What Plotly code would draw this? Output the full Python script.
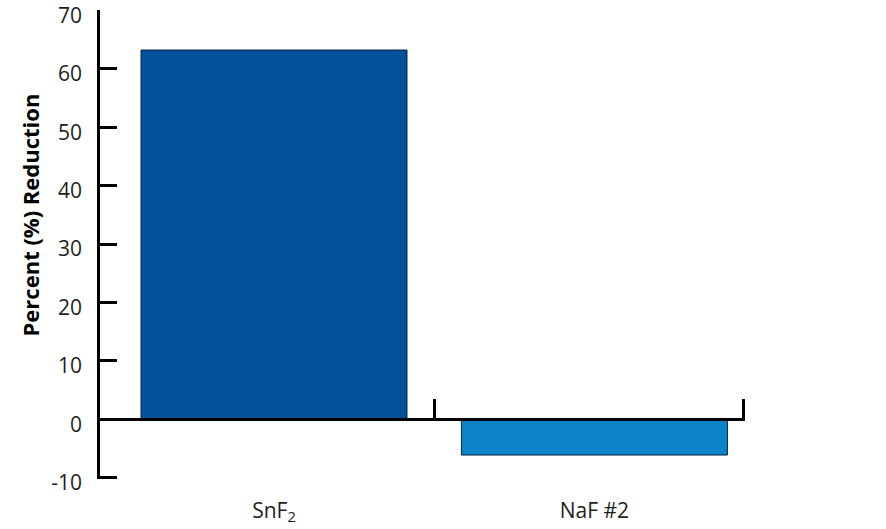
import plotly.graph_objects as go

# Data
categories = ["SnF<sub>2</sub>", "NaF #2"]
reduction = [63.2, -6.1]
bar_colors = ["#02519b", "#0b84c8"]

y_ticks = list(range(-10, 80, 10))
y_tick_text = [str(v) for v in y_ticks]  # plain hyphen, as in the reference
FONT = "'Open Sans', sans-serif"
INK = "#231f20"

x_pos = list(range(len(categories)))

fig = go.Figure()
fig.add_trace(go.Bar(
    x=x_pos,
    y=reduction,
    width=0.83,
    marker=dict(color=bar_colors, line=dict(color="#0a1f3a", width=1)),
    showlegend=False,
))

# invisible trace so the label axis (x2) is drawn
fig.add_trace(go.Scatter(x=x_pos, y=[None, None], xaxis="x2", yaxis="y",
                         showlegend=False, hoverinfo="skip"))

fig.update_layout(
    width=886,
    height=529,
    margin=dict(l=100, r=141, t=10, b=50),
    plot_bgcolor="white",
    paper_bgcolor="white",
    font=dict(family=FONT, size=21, color=INK),
    xaxis=dict(
        type="linear",
        range=[-0.543, 1.47],
        anchor="free",
        position=10.2 / 80.25,
        showline=True, linecolor="black", linewidth=2.5,
        ticks="inside", ticklen=20, tickwidth=2.5, tickcolor="black",
        tickvals=[0.5, 1.466],
        showticklabels=False,
        showgrid=False, zeroline=False,
        automargin=False,
    ),
    xaxis2=dict(
        overlaying="x",
        anchor="y",
        side="bottom",
        range=[-0.543, 1.47],
        tickvals=x_pos,
        ticktext=categories,
        ticks="",
        ticklabelstandoff=17,
        showline=False, showgrid=False, zeroline=False,
        tickfont=dict(family=FONT, size=21, color=INK),
        automargin=False,
    ),
    yaxis=dict(
        range=[-10.2, 70.05],
        tickvals=y_ticks,
        ticktext=y_tick_text,
        showline=True, linecolor="black", linewidth=2.5,
        ticks="inside", ticklen=17, tickwidth=2.5, tickcolor="black",
        ticklabelstandoff=11,
        ticklabelshift=5,
        showgrid=False, zeroline=False,
        tickfont=dict(family=FONT, size=21, color=INK),
        automargin=False,
    ),
)

fig.add_annotation(
    text="<b>Percent (%) Reduction</b>",
    xref="paper", yref="paper",
    x=-0.1085, y=0.562,
    xanchor="center", yanchor="middle",
    textangle=-90, showarrow=False,
    font=dict(family=FONT, size=22, color="black"),
)

# the page's default body margin would shift the figure by 8px
fig.write_html("out.html", config={"displayModeBar": False},
               post_script="document.body.style.margin='0';")
